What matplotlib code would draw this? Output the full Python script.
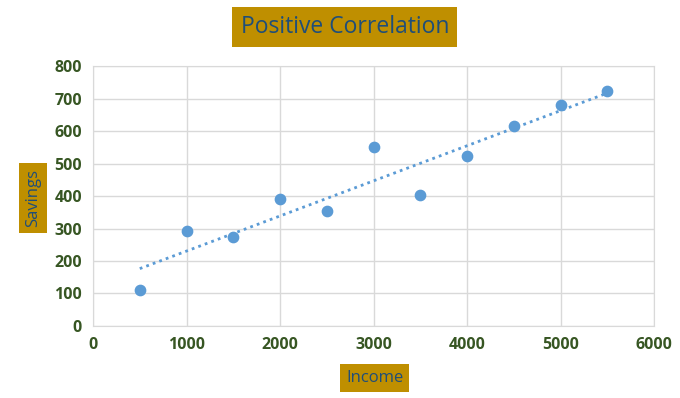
import numpy as np
import matplotlib.pyplot as plt

plt.rcParams['font.family'] = ['Open Sans', 'DejaVu Sans']

# 收入与储蓄数据
income = [500, 1000, 1500, 2000, 2500, 3000, 3500, 4000, 4500, 5000, 5500]
savings = [110, 292, 275, 390, 355, 550, 402, 522, 615, 680, 722]

x_ticks = [0, 1000, 2000, 3000, 4000, 5000, 6000]
y_ticks = [0, 100, 200, 300, 400, 500, 600, 700, 800]

blue = '#5B9BD5'
gold = '#BF8F00'
navy = '#1F4E79'
green = '#375623'

fig = plt.figure(figsize=(6.8, 3.98), dpi=100)
ax = fig.add_axes([0.1368, 0.181, 0.825, 0.653])

ax.scatter(income, savings, s=55, color=blue, zorder=3)

# 线性趋势线
k, b = np.polyfit(income, savings, 1)
xs = np.array([min(income), max(income)])
ax.plot(xs, k * xs + b, linestyle=(0, (1, 1.5)), linewidth=2, color=blue, zorder=2)

ax.set_xlim(0, 6000)
ax.set_ylim(0, 800)
ax.set_xticks(x_ticks)
ax.set_yticks(y_ticks)
ax.grid(True, color='#D9D9D9', linewidth=1)
ax.set_axisbelow(True)
for s in ax.spines.values():
    s.set_color('#D9D9D9')
ax.tick_params(length=0, labelsize=11.5, labelcolor=green, pad=8)
for lbl in ax.get_xticklabels() + ax.get_yticklabels():
    lbl.set_fontweight('bold')

box = dict(facecolor=gold, edgecolor='none', boxstyle='square,pad=0.35')
fig.text(0.507, 0.932, 'Positive Correlation', ha='center', va='center',
         fontsize=16.5, color=navy, bbox=box)
fig.text(0.049, 0.503, 'Savings', ha='center', va='center', rotation=90,
         fontsize=12, color=navy, bbox=box)
fig.text(0.551, 0.05, 'Income', ha='center', va='center',
         fontsize=12, color=navy, bbox=box)

fig.savefig('out.png', dpi=100)
